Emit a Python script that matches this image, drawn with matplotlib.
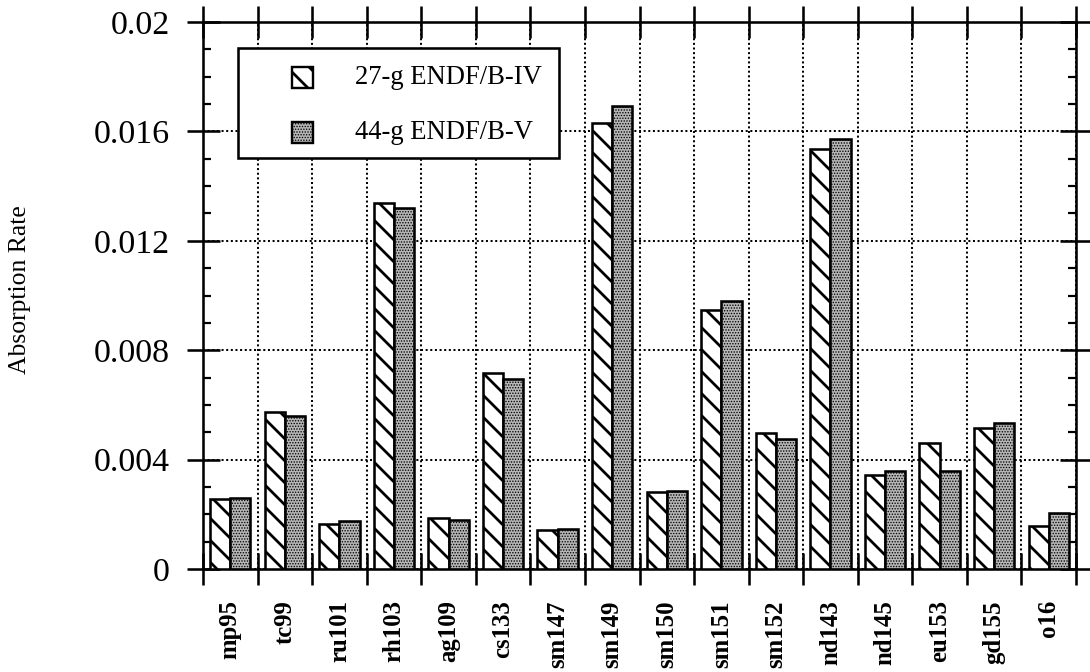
import matplotlib
matplotlib.use("Agg")
import matplotlib.pyplot as plt
from matplotlib.patches import Rectangle
from matplotlib.ticker import MultipleLocator, FixedLocator
import numpy as np

# Absorption rates per nuclide for the two cross-section libraries
nuclides = ["mp95", "tc99", "ru101", "rh103", "ag109", "cs133", "sm147", "sm149",
            "sm150", "sm151", "sm152", "nd143", "nd145", "eu153", "gd155", "o16"]
rate_27g_b4 = [0.00255, 0.00574, 0.00165, 0.01339, 0.00185, 0.00716, 0.00143, 0.01630,
               0.00281, 0.00947, 0.00498, 0.01535, 0.00342, 0.00459, 0.00514, 0.00157]
rate_44g_b5 = [0.00258, 0.00558, 0.00175, 0.01319, 0.00179, 0.00696, 0.00145, 0.01692,
               0.00284, 0.00980, 0.00477, 0.01572, 0.00357, 0.00360, 0.00535, 0.00205]
legend_labels = ["27-g ENDF/B-IV", "44-g ENDF/B-V"]
ytick_values = [0, 0.004, 0.008, 0.012, 0.016, 0.02]
ytick_labels = ["0", "0.004", "0.008", "0.012", "0.016", "0.02"]

DPI = 132
plt.rcParams["font.family"] = ["Liberation Serif", "DejaVu Serif"]
plt.rcParams["hatch.color"] = "black"
plt.rcParams["ytick.major.pad"] = 9
plt.rcParams["ytick.direction"] = "inout"
plt.rcParams["ytick.major.size"] = 18
plt.rcParams["ytick.major.width"] = 1.4
plt.rcParams["ytick.labelsize"] = 18.5
plt.rcParams["xtick.direction"] = "inout"
plt.rcParams["xtick.major.size"] = 17
plt.rcParams["xtick.major.width"] = 1.4

fig = plt.figure(figsize=(1090 / DPI, 672 / DPI), dpi=DPI)
ax = fig.add_axes([203 / 1090, 1 - 569 / 672, 873 / 1090, 547 / 672])

n = len(nuclides)
centers = np.arange(n) + 0.5
bw = 0.37

hatch_a = "\\\\"
hatch_b = "........"
face_b = "#b6b6b6"

with plt.rc_context({"hatch.linewidth": 1.5}):
    ax.bar(centers - bw, rate_27g_b4, width=bw, align="edge", facecolor="white",
           edgecolor="black", linewidth=1.4, hatch=hatch_a, zorder=3)
with plt.rc_context({"hatch.linewidth": 0.5}):
    ax.bar(centers, rate_44g_b5, width=bw, align="edge", facecolor=face_b,
           edgecolor="black", linewidth=1.4, hatch=hatch_b, zorder=3)

ax.set_xlim(0, n)
ax.set_ylim(0, 0.02)

# y axis: major ticks crossing the spine, minor ticks inward on both sides
ax.yaxis.set_major_locator(FixedLocator(ytick_values))
ax.set_yticklabels(ytick_labels)
ax.yaxis.set_minor_locator(MultipleLocator(0.001))
ax.tick_params(axis="y", which="major", left=True, right=True)
ax.tick_params(axis="y", which="minor", direction="in", length=4.5, width=1.2,
               left=True, right=True)

# x axis: ticks at category boundaries, labels at category centres
ax.xaxis.set_major_locator(FixedLocator(np.arange(n + 1)))
ax.xaxis.set_minor_locator(FixedLocator(centers))
ax.set_xticklabels([], minor=False)
ax.set_xticklabels(nuclides, minor=True, rotation=90, fontweight="bold",
                   fontsize=13.5, va="top", ha="center")
ax.tick_params(axis="x", which="major", top=True, bottom=True)
ax.tick_params(axis="x", which="minor", length=0, pad=17)

for s in ax.spines.values():
    s.set_linewidth(1.4)

ax.set_axisbelow(True)
ax.grid(True, which="major", color="black", linestyle=(0, (1, 1.3)), linewidth=1.1)

# legend box
ax.add_patch(Rectangle((0.040, 0.751), 0.368, 0.201, transform=ax.transAxes,
                       facecolor="white", edgecolor="black", linewidth=1.4, zorder=6))
for (y0, yt), hatch, face, hlw, label in zip([(0.879, 0.8985), (0.779, 0.798)],
                                             [hatch_a, hatch_b], ["white", face_b],
                                             [1.5, 0.5], legend_labels):
    with plt.rc_context({"hatch.linewidth": hlw}):
        ax.add_patch(Rectangle((0.102, y0), 0.024, 0.0384, transform=ax.transAxes,
                               facecolor=face, edgecolor="black", linewidth=1.3,
                               hatch=hatch, zorder=7))
    ax.text(0.174, yt, label, transform=ax.transAxes, fontsize=14.5,
            va="center", ha="left", zorder=7)

fig.text(20 / 1090, 1 - 290 / 672, "Absorption Rate", rotation=90,
         fontsize=14, va="center", ha="center")

fig.savefig("out.png", dpi=DPI)
